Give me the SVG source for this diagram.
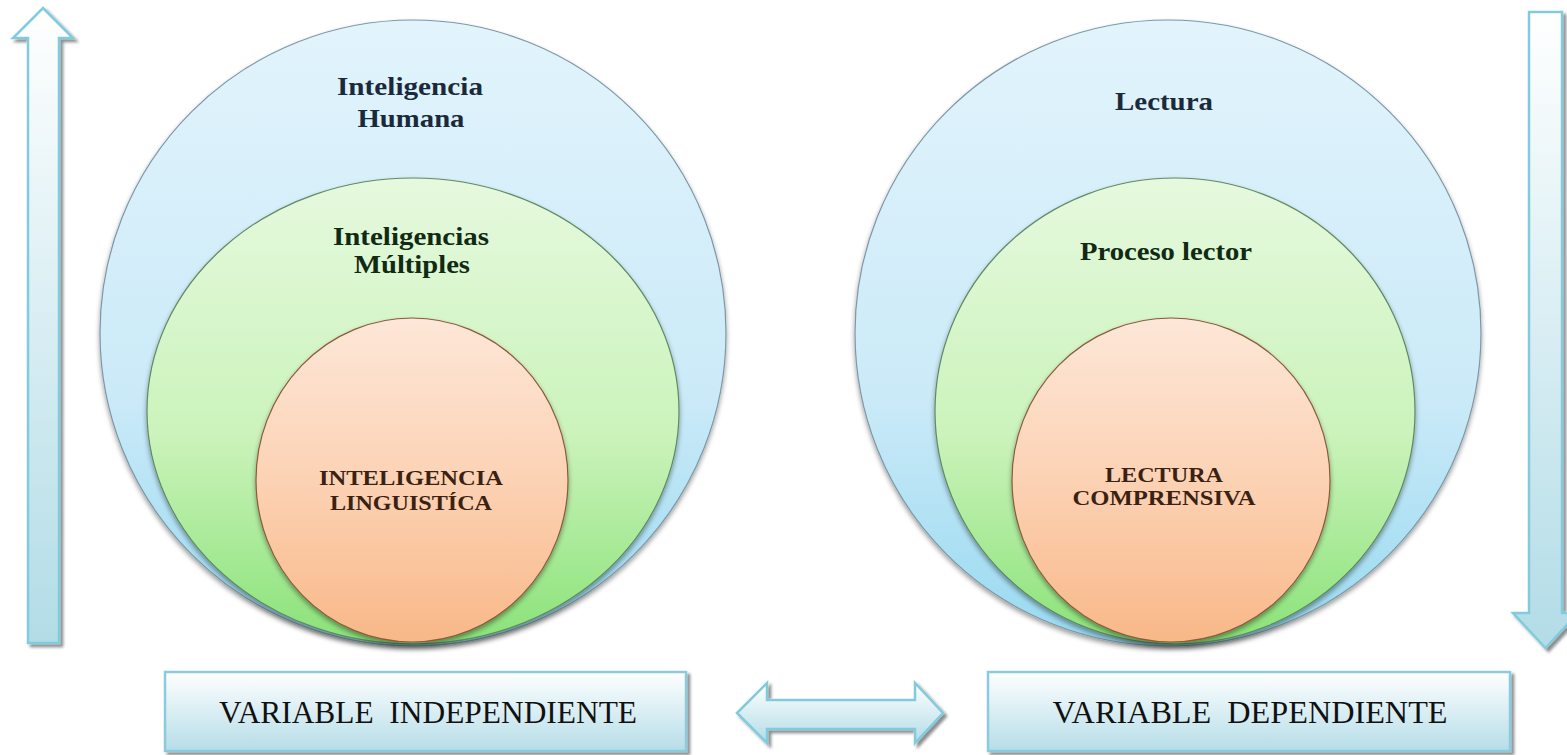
<svg xmlns="http://www.w3.org/2000/svg" width="1567" height="755" viewBox="0 0 1567 755">
<defs>
<linearGradient id="gBlue" x1="0" y1="0" x2="0" y2="1">
<stop offset="0" stop-color="#e2f4fc"/><stop offset="0.6" stop-color="#cbeaf8"/><stop offset="1" stop-color="#98d9f0"/>
</linearGradient>
<linearGradient id="gGreen" x1="0" y1="0" x2="0" y2="1">
<stop offset="0" stop-color="#e6f9de"/><stop offset="0.55" stop-color="#cbf3bb"/><stop offset="1" stop-color="#8ae278"/>
</linearGradient>
<linearGradient id="gOrange" x1="0" y1="0" x2="0" y2="1">
<stop offset="0" stop-color="#fde7d8"/><stop offset="0.5" stop-color="#fcd2b4"/><stop offset="1" stop-color="#f8b888"/>
</linearGradient>
<linearGradient id="gArrow" x1="0" y1="0" x2="0" y2="1">
<stop offset="0" stop-color="#ffffff"/><stop offset="1" stop-color="#b2dce7"/>
</linearGradient>
<linearGradient id="gBox" x1="0" y1="0" x2="0" y2="1">
<stop offset="0" stop-color="#ffffff"/><stop offset="1" stop-color="#b5dde8"/>
</linearGradient>
<filter id="sh" x="-10%" y="-10%" width="130%" height="130%">
<feGaussianBlur in="SourceAlpha" stdDeviation="1.5"/>
<feOffset dx="3" dy="3" result="o"/>
<feComponentTransfer><feFuncA type="linear" slope="0.45"/></feComponentTransfer>
<feMerge><feMergeNode/><feMergeNode in="SourceGraphic"/></feMerge>
</filter>
<filter id="csh" x="-10%" y="-10%" width="120%" height="120%">
<feGaussianBlur in="SourceAlpha" stdDeviation="2.5"/>
<feOffset dx="0" dy="3" result="o"/>
<feComponentTransfer><feFuncA type="linear" slope="0.4"/></feComponentTransfer>
<feMerge><feMergeNode/><feMergeNode in="SourceGraphic"/></feMerge>
</filter>
</defs>
<style>
.arrow{fill:url(#gArrow);stroke:#82cbdc;stroke-width:2.5;filter:url(#sh)}
.box{fill:url(#gBox);stroke:#8ccbdc;stroke-width:2.5;filter:url(#sh)}
.cb{fill:url(#gBlue);stroke:#7c98a6;stroke-width:1.2;filter:url(#csh)}
.cg{fill:url(#gGreen);stroke:#5f8a63;stroke-width:1.2;filter:url(#csh)}
.co{fill:url(#gOrange);stroke:#8a5a3a;stroke-width:1.2;filter:url(#csh)}
.t{font-family:"Liberation Serif","Times New Roman",serif;font-weight:bold;text-anchor:middle}
.tb{fill:#1b2a3b;font-size:26px}
.tg{fill:#102a14;font-size:26px}
.to{fill:#3a2212;font-size:20px}
.bt{font-family:"Liberation Serif","Times New Roman",serif;font-size:31px;fill:#111;text-anchor:middle}
</style>
<g id="arrow-up"><path class="arrow" d="M43,8 L73,38 L59,38 L59,643 L28,643 L28,38 L13,38 Z"/></g>
<g id="arrow-down"><path class="arrow" d="M1529,12 L1562,12 L1562,613 L1578,613 L1545.5,648 L1513,613 L1529,613 Z"/></g>
<g id="left-circles">
<ellipse class="cb" cx="413" cy="333" rx="313" ry="313"/>
<ellipse class="cg" cx="413" cy="411" rx="266" ry="233"/>
<ellipse class="co" cx="412" cy="480" rx="156" ry="162"/>
<text class="t tb" x="410" y="95" textLength="146" lengthAdjust="spacingAndGlyphs">Inteligencia</text>
<text class="t tb" x="411" y="127" textLength="107" lengthAdjust="spacingAndGlyphs">Humana</text>
<text class="t tg" x="411" y="245" textLength="156" lengthAdjust="spacingAndGlyphs">Inteligencias</text>
<text class="t tg" x="412" y="273" textLength="116" lengthAdjust="spacingAndGlyphs">Múltiples</text>
<text class="t to" x="411" y="485" textLength="184" lengthAdjust="spacingAndGlyphs">INTELIGENCIA</text>
<text class="t to" x="411" y="510" textLength="162" lengthAdjust="spacingAndGlyphs">LINGUISTÍCA</text>
</g>
<g id="right-circles">
<ellipse class="cb" cx="1168" cy="333" rx="313" ry="313"/>
<ellipse class="cg" cx="1175" cy="411" rx="240" ry="233"/>
<ellipse class="co" cx="1171" cy="480" rx="159" ry="162"/>
<text class="t tb" x="1164" y="110" textLength="98" lengthAdjust="spacingAndGlyphs">Lectura</text>
<text class="t tg" x="1166" y="260" textLength="172" lengthAdjust="spacingAndGlyphs">Proceso lector</text>
<text class="t to" x="1164" y="482" textLength="118" lengthAdjust="spacingAndGlyphs">LECTURA</text>
<text class="t to" x="1164" y="505" textLength="183" lengthAdjust="spacingAndGlyphs">COMPRENSIVA</text>
</g>
<g id="box-independiente">
<rect class="box" x="165" y="672" width="521" height="79"/>
<text class="bt" x="428" y="723" textLength="418" lengthAdjust="spacingAndGlyphs" xml:space="preserve">VARIABLE  INDEPENDIENTE</text>
</g>
<g id="box-dependiente">
<rect class="box" x="988" y="672" width="522" height="79"/>
<text class="bt" x="1250" y="723" textLength="395" lengthAdjust="spacingAndGlyphs" xml:space="preserve">VARIABLE  DEPENDIENTE</text>
</g>
<g id="connectors">
<path class="arrow" d="M737,713 L767,683 L767,700 L915,700 L915,683 L943,713 L915,743 L915,729 L767,729 L767,743 Z"/>
</g>
</svg>
